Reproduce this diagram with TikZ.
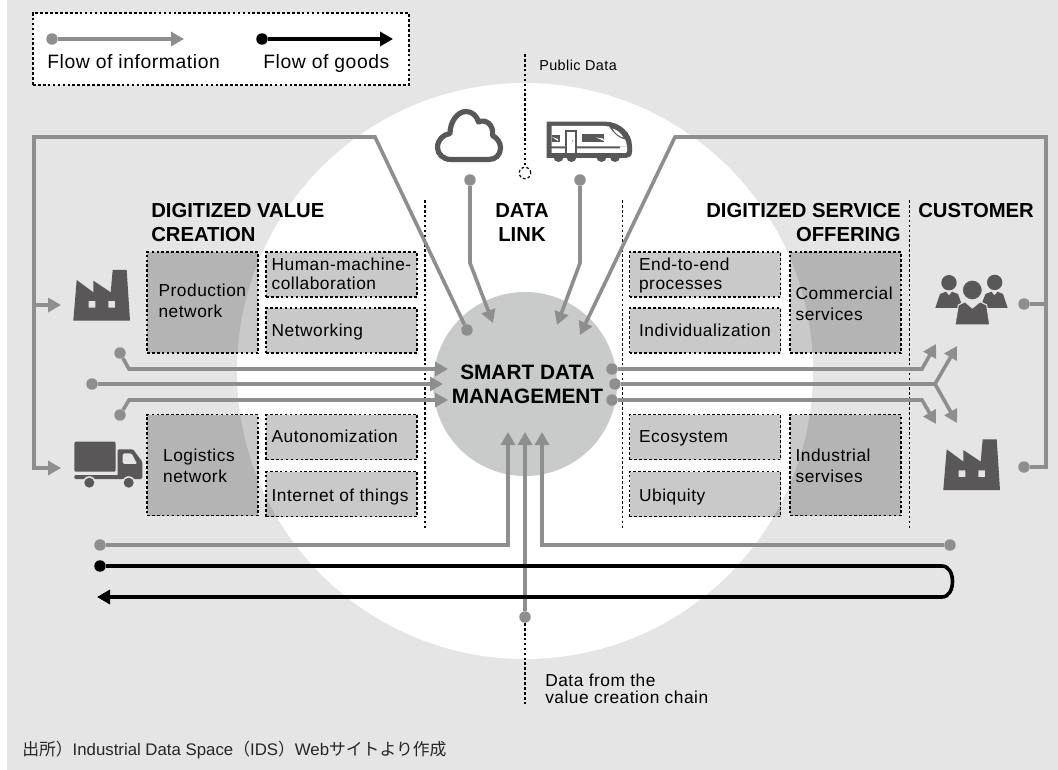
\documentclass[tikz,border=0pt]{standalone}
\usepackage{fontspec}
\setmainfont{Liberation Sans}
\newfontfamily\tracked{Liberation Sans}[LetterSpace=3]
\newfontfamily\cjk{Noto Sans CJK JP}
\usetikzlibrary{arrows.meta, positioning}
\definecolor{panelgray}{HTML}{E5E5E5}
\definecolor{hubgray}{HTML}{C9CACA}
\definecolor{flowgray}{HTML}{8E8E8E}
\definecolor{icongray}{HTML}{595757}
\tikzset{
    infoflow/.style={draw=flowgray, line width=2.7pt, -{Triangle[length=9.75pt,width=10.5pt]}},
    infoline/.style={draw=flowgray, line width=2.7pt},
    goodsflow/.style={draw=black, line width=2.7pt, -{Triangle[length=9.75pt,width=10.5pt]}},
    infodot/.style={circle, fill=flowgray, minimum size=8.6pt, inner sep=0pt},
    goodsdot/.style={circle, fill=black, minimum size=8.6pt, inner sep=0pt},
    fineline/.style={draw=black, line width=1pt, dash pattern=on 2pt off 1.7pt},
    netbox/.style={fineline, fill=black, fill opacity=0.21, inner sep=0pt},
    smallbox/.style={netbox, minimum width=113.25pt, minimum height=33.75pt},
    tallbox/.style={netbox, minimum width=83.25pt, minimum height=75.75pt},
    boxsmalltext/.style={align=left, inner sep=0pt, font=\tracked\fontsize{13}{14.25}\selectfont},
    boxtalltext/.style={align=left, inner sep=0pt, font=\tracked\fontsize{13}{15.75}\selectfont},
    headtext/.style={inner sep=0pt, font=\fontsize{15.2}{17.5}\selectfont\bfseries},
    noterm/.style={align=left, inner sep=0pt, font=\tracked\fontsize{10.8}{12.75}\selectfont},
    legendtext/.style={anchor=base west, inner sep=0pt, font=\tracked\fontsize{14.5}{16}\selectfont},
    factory/.pic={
        \fill[icongray, even odd rule] (0,50.7) -- (3.4,10) -- (20,22.3) -- (20,10.7) -- (37.4,22.3)
            -- (39.4,0) -- (53.4,0) -- (56.7,50.7) -- cycle
            (15.4,31) rectangle (22,37.7) (35,31) rectangle (41.7,37.7);
    }
}

\begin{document}
\begin{tikzpicture}[x=0.75pt, y=-0.75pt]
\useasboundingbox (0,0) rectangle (1058,770);
\fill[white] (0,0) rectangle (1058,770);

% Panel and circles
\fill[panelgray] (7,0) rectangle (1058,770);
\fill[white] (525,371) circle (288);
\fill[hubgray] (525,384) circle (92);

% Legend
\node[fineline, fill=white, minimum width=282pt, minimum height=54pt, inner sep=0pt] (legend) at (221,49) {};
\node[infodot] (legendinfo) at (52,39) {};
\coordinate (legendinfotip) at (184,39);
\node[goodsdot] (legendgoods) at (262,39) {};
\coordinate (legendgoodstip) at (393,39);
\draw[infoflow] (legendinfo) -- (legendinfotip);
\draw[goodsflow] (legendgoods) -- (legendgoodstip);
\node[legendtext] (legendinfotext) at (47,69) {Flow of information};
\node[legendtext] (legendgoodstext) at (263,69) {Flow of goods};

% Dotted columns
\foreach \name/\x in {colvalue/425, coldata/622.5, colservice/909.5} {
    \coordinate (\name top) at (\x,200);
    \coordinate (\name bottom) at (\x,529);
    \draw[fineline] (\name top) -- (\name bottom);
}

% Small boxes
\foreach \name/\x/\y/\pad/\dy/\txt in {
    human/341.5/274.5/4.5/1/{Human-machine-\\collaboration},
    networking/341.5/330.5/4.5/1.8/{Networking},
    autonom/341.5/437/4.5/1.1/{Autonomization},
    things/341.5/494/4.5/2.9/{Internet of things},
    endtoend/705/274.5/7.5/1/{End-to-end\\processes},
    individual/705/330.5/7.5/1.8/{Individualization},
    ecosystem/705/437/7.5/1.1/{Ecosystem},
    ubiquity/705/494/7.5/2.9/{Ubiquity}} {
    \node[smallbox] (\name) at (\x,\y) {};
    \node[boxsmalltext, right=\pad pt of \name.west, yshift=-\dy pt] (\name text) {\strut\txt\strut};
}

% Tall boxes
\foreach \name/\x/\y/\pad/\dy/\txt in {
    production/202.5/302.5/9/0/{Production\\network},
    logistics/202.5/465/12.4/2.1/{Logistics\\network},
    commercial/845.5/302.5/4.5/2.25/{Commercial\\services},
    industrial/845.5/465/4.5/2.1/{Industrial\\servises}} {
    \node[tallbox] (\name) at (\x,\y) {};
    \node[boxtalltext, right=\pad pt of \name.west, yshift=-\dy pt] (\name text) {\strut\txt\strut};
}

% Public data
\coordinate (publictop) at (525,54);
\node[circle, fineline, minimum size=8.6pt, inner sep=0pt, line width=0.9pt] (publicend) at (525,173) {};
\draw[fineline] (publictop) -- (publicend);
\node[noterm, anchor=west] (publiclabel) at (539,65) {Public Data};

% Value chain data
\node[infodot] (chaindot) at (525,617) {};
\coordinate (chainend) at (525,704);
\coordinate (chaintip) at (525,432);
\draw[fineline] (chaindot) -- (chainend);
\draw[infoflow] (chaindot) -- (chaintip);
\node[noterm, anchor=west, font=\tracked\fontsize{13}{12.75}\selectfont] (chainlabel) at (545,689) {Data from the\\value creation chain};

% Flows from the top
\foreach \name/\x/\y in {cloudtip/493/323, traintip/557/325, framerighttip/580/335} {
    \coordinate (\name) at (\x,\y);
}
\node[infodot] (clouddot) at (470,180) {};
\node[infodot] (traindot) at (580,180) {};
\node[infodot] (frameleftdot) at (467,330) {};
\draw[infoflow] (clouddot) -- (470,263) -- (cloudtip);
\draw[infoflow] (traindot) -- (580,263) -- (traintip);

% Left frame
\coordinate (factorytip) at (61,305);
\coordinate (trucktip) at (61,468);
\draw[infoflow] (frameleftdot) -- (375,137) -- (34,137) -- (34,468) -- (trucktip);
\draw[infoflow] (34,305) -- (factorytip);

% Right frame
\node[infodot] (groupdot) at (1024,304) {};
\node[infodot] (plantdot) at (1024,467) {};
\draw[infoflow] (plantdot) -- (1046,467) -- (1046,137) -- (675,137) -- (framerighttip);
\draw[infoline] (groupdot) -- (1046,304);

% Into the hub
\foreach \name/\x/\y in {inupper/120/353, inmiddle/92/384, inlower/120/415} {
    \node[infodot] (\name) at (\x,\y) {};
}
\foreach \name/\x/\y in {inuppertip/448/369, inmiddletip/443/384, inlowertip/448/400} {
    \coordinate (\name) at (\x,\y);
}
\draw[infoflow] (inupper) -- (129,369) -- (inuppertip);
\draw[infoflow] (inmiddle) -- (inmiddletip);
\draw[infoflow] (inlower) -- (129,400) -- (inlowertip);

% Out of the hub
\foreach \name/\x/\y in {outupper/612/369, outmiddle/615/384, outlower/612/400} {
    \node[infodot] (\name) at (\x,\y) {};
}
\foreach \name/\x/\y in {outuppertip/936/344, forkuppertip/957/346, forklowertip/957/423, outlowertip/936/424} {
    \coordinate (\name) at (\x,\y);
}
\coordinate (fork) at (935,384);
\draw[infoflow] (outupper) -- (922,369) -- (outuppertip);
\draw[infoflow] (outlower) -- (922,400) -- (outlowertip);
\draw[infoline] (outmiddle) -- (fork);
\draw[infoflow] (fork) -- (forkuppertip);
\draw[infoflow] (fork) -- (forklowertip);

% Bottom flows
\node[infodot] (bottomleft) at (100,545) {};
\node[infodot] (bottomright) at (950,545) {};
\coordinate (bottomlefttip) at (508,432);
\coordinate (bottomrighttip) at (542,432);
\draw[infoflow] (bottomleft) -- (508,545) -- (bottomlefttip);
\draw[infoflow] (bottomright) -- (542,545) -- (bottomrighttip);
\node[goodsdot] (goodsstart) at (100,566) {};
\coordinate (goodstip) at (97,597);
\draw[goodsflow] (goodsstart) -- (942,566) .. controls (956,566) and (956,597) .. (942,597) -- (goodstip);

% Headings
\node[headtext, align=left, anchor=north west] (valuehead) at (151,203.5) {DIGITIZED VALUE\\CREATION};
\node[headtext, align=center, anchor=north] (datahead) at (522,203.5) {DATA\\LINK};
\node[headtext, align=right, anchor=north east] (servicehead) at (901,203.5) {DIGITIZED SERVICE\\OFFERING};
\node[headtext, anchor=north west] (customerhead) at (918,203.5) {CUSTOMER};
\node[inner sep=0pt, align=center, font=\fontsize{15.6}{18}\selectfont\bfseries] (hub) at (527.5,384) {SMART DATA\\MANAGEMENT};

% Factories
\pic at (73.3,270) {factory};
\pic at (943.3,439.3) {factory};

% Truck
\fill[icongray, rounded corners=1pt] (74.3,441.7) rectangle (115.7,471.7);
\fill[icongray, rounded corners=1pt] (74.3,475) rectangle (120,479);
\fill[icongray, even odd rule, rounded corners=1pt] (117.5,479) -- (117.5,449.3) -- (133,449.3) -- (142.3,461.7) -- (142.3,479) -- cycle
    (122.7,453.3) -- (131.7,453.3) -- (137.3,464) -- (122.7,464) -- cycle;
\foreach \x in {89.3,128.7} {
    \fill[panelgray] (\x,482.7) circle (6.5);
    \fill[icongray] (\x,482.7) circle (5);
}

% Cloud
\draw[icongray, line width=3.9pt, line join=round] (451,159.5) .. controls (443,159.5) and (437.5,154) .. (437.5,147.5)
    .. controls (437.5,140) and (443,134.5) .. (450,133.5) .. controls (450,121) and (458,111.5) .. (466,111.5)
    .. controls (472,111.5) and (477,116) .. (478.5,122) .. controls (486,118.5) and (494,125) .. (492.5,135.5)
    .. controls (497,138) and (500.5,142) .. (500.5,148) .. controls (500.5,154.5) and (496,159.5) .. (489,159.5) -- cycle;

% Train
\foreach \x in {558.5,571.5,601.5,615} {
    \fill[icongray] (\x,157) circle (5);
}
\fill[icongray] (546.7,121.7) -- (606,121.7) .. controls (620,122) and (632,133) .. (632,146) -- (632,152)
    .. controls (632,156) and (629,158) .. (626,158) -- (546.7,158) -- cycle;
\fill[white] (551.5,126) -- (604,126) .. controls (616,126) and (626,135) .. (627,146.5) -- (551.5,146.5) -- cycle;
\fill[white] (551.5,148.3) -- (620,148.3) -- (620,146.5) -- (627,146.5) -- (627,151) .. controls (627,152.5) and (626,153) .. (625,153) -- (551.5,153) -- cycle;
\fill[icongray] (565,130) rectangle (577.3,153);
\fill[white] (567,132) rectangle (575.3,153);
\fill[icongray] (572.5,141) circle (0.7);
\fill[icongray] (581.7,134) rectangle (604,142.3);
\fill[white] (596,137.5) -- (603,138.5) -- (604,141) -- cycle;
\fill[icongray] (551.7,135) rectangle (560,142.3);
\fill[white] (552,137) -- (558,139) -- (558,141) -- cycle;
\fill[icongray] (609,126) .. controls (617,127) and (624,132) .. (627,139.5) .. controls (620,139.5) and (613,133) .. (609,126);
\fill[white] (612.5,128.5) .. controls (617,130) and (621,133) .. (623.5,137.5) .. controls (619,136.5) and (615,133) .. (612.5,128.5);

% People
\fill[icongray] (935.3,308) -- (940,294) -- (946,291.7) -- (949,295.5) -- (952,291.7) -- (958,294) -- (963,308) -- cycle;
\fill[icongray] (1007.7,308) -- (1003,294) -- (997.5,291.7) -- (994.5,295.5) -- (991.5,291.7) -- (985.5,294) -- (980,308) -- cycle;
\fill[icongray] (949,282.7) circle (7.7);
\fill[icongray] (994.7,282.4) circle (7.7);
\filldraw[icongray, draw=panelgray, line width=0.8pt] (955,324.8) -- (958.3,305) -- (965,301.7) -- (972.3,308) -- (980,301.7) -- (986.7,305) -- (989.7,324.8) -- cycle;
\filldraw[icongray, draw=panelgray, line width=0.8pt] (972.3,290) circle (10);

% Source
\node[anchor=west, inner sep=0pt, text=black!85, font=\fontsize{12.6}{14}\selectfont] (source) at (22,750)
    {{\cjk 出所）}Industrial Data Space{\cjk （}IDS{\cjk ）}Web{\cjk サイトより作成}};
\end{tikzpicture}
\end{document}
